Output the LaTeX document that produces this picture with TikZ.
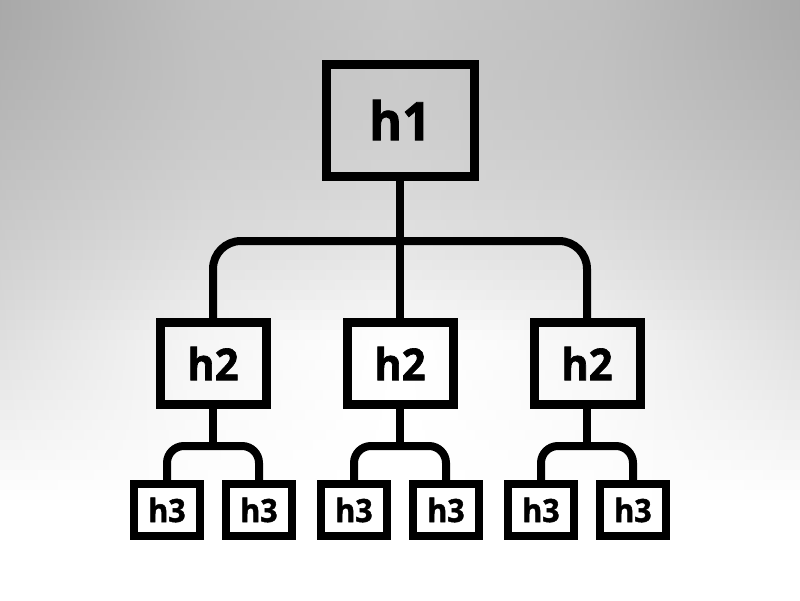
\documentclass[tikz,border=0pt]{standalone}
\usepackage{fontspec}
\setmainfont{Open Sans}
\newfontfamily\hfont[FakeBold=1.5,FakeStretch=0.95]{Open Sans}
\begin{document}
\begin{tikzpicture}[x=1pt,y=-1pt]
\tikzset{
  box/.style={draw=black, rectangle, inner sep=0pt, fill=none},
  h1box/.style={box, line width=9pt, minimum width=148pt, minimum height=112pt,
    font=\hfont\bfseries\fontsize{53}{60}\selectfont},
  h2box/.style={box, line width=9pt, minimum width=106pt, minimum height=82pt,
    font=\hfont\bfseries\fontsize{44}{50}\selectfont},
  h3box/.style={box, line width=8pt, minimum width=66pt, minimum height=52pt,
    font=\hfont\bfseries\fontsize{32}{36}\selectfont},
  link/.style={draw=black, line width=8pt, line cap=butt},
}
\useasboundingbox (0,0) rectangle (800,600);
% background gradient
\foreach \i in {0,...,59}{
  \pgfmathsetmacro\ym{10*\i+5}
  \pgfmathsetmacro\kc{max(0,22.35*(1-(\ym/340)^2))}
  \pgfmathsetmacro\ke{max(0,34.1*(1-(\ym/500)^1.2))}
  \pgfmathsetmacro\km{\kc+0.3*(\ke-\kc)}
  \pgfmathsetmacro\yt{10*\i}
  \pgfmathsetmacro\yb{10*\i+10.6}
  \colorlet{bgc}{black!\kc!white}
  \colorlet{bge}{black!\ke!white}
  \colorlet{bgm}{black!\km!white}
  \shade[left color=bge, right color=bgm] (0,\yt) rectangle (200.5,\yb);
  \shade[left color=bgm, right color=bgc] (200,\yt) rectangle (400.5,\yb);
  \shade[left color=bgc, right color=bgm] (400,\yt) rectangle (600.5,\yb);
  \shade[left color=bgm, right color=bge] (600,\yt) rectangle (800,\yb);
}
% nodes
\node[h1box] (h1) at (400,120) {h1};
\node[h2box] (h2a) at (213,363.5) {h2};
\node[h2box] (h2b) at (400,363.5) {h2};
\node[h2box] (h2c) at (587,363.5) {h2};
\node[h3box] (h3a) at (167,510) {h3};
\node[h3box] (h3b) at (259,510) {h3};
\node[h3box] (h3c) at (354,510) {h3};
\node[h3box] (h3d) at (446,510) {h3};
\node[h3box] (h3e) at (541,510) {h3};
\node[h3box] (h3f) at (633,510) {h3};
% connectors
\coordinate (bar) at (400,241);
\draw[link] (h1.south) -- (h2b.north);
\draw[link, rounded corners=28pt] (h2a.north) |- (bar) -| (h2c.north);
\coordinate (ja) at (213,446);
\coordinate (jb) at (400,446);
\coordinate (jc) at (587,446);
\draw[link] (h2a.south) -- (ja);
\draw[link] (h2b.south) -- (jb);
\draw[link] (h2c.south) -- (jc);
\draw[link, rounded corners=17pt] (h3a.north) |- (ja) -| (h3b.north);
\draw[link, rounded corners=17pt] (h3c.north) |- (jb) -| (h3d.north);
\draw[link, rounded corners=17pt] (h3e.north) |- (jc) -| (h3f.north);
\end{tikzpicture}
\end{document}
